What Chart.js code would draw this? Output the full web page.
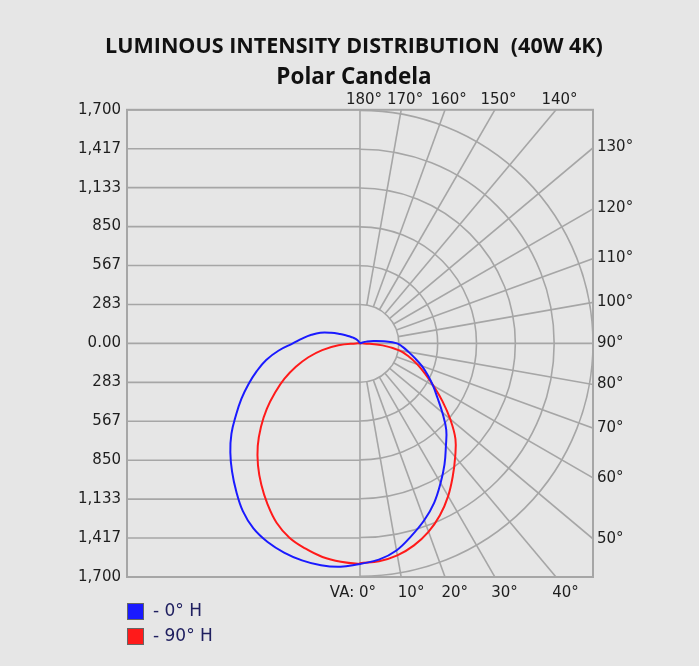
<!DOCTYPE html>
<html>
<head>
<meta charset="utf-8">
<title>Luminous Intensity Distribution</title>
<script src="https://cdn.jsdelivr.net/npm/chart.js@4.4.0/dist/chart.umd.min.js"></script>
<style>
  html, body { margin: 0; padding: 0; background: #e6e6e6; }
  #wrap { width: 699px; height: 666px; }
</style>
</head>
<body>
<div id="wrap"><canvas id="polarChart" width="699" height="666"></canvas></div>
<script>
// vertical angles (0 = straight down), candela
const vAngles = [0, 5, 10, 15, 20, 25, 30, 35, 40, 45, 50, 55, 60, 65, 70, 75, 80, 85, 90,
    95, 100, 105, 110, 115, 120, 125, 130, 135, 140, 145, 150, 155, 160, 165, 170, 175, 180];

// 0° H plane: right side = 0°, left side = 180°
const cd0H = [1605, 1580, 1530, 1450, 1370, 1280, 1175, 1075, 975, 890, 785, 690, 615, 545, 480, 415, 360, 315, 270,
    175, 100, 50, 20, 0, 0, 0, 0, 0, 0, 0, 0, 0, 0, 0, 0, 0, 0];
const cd180H = [1605, 1632, 1640, 1635, 1620, 1595, 1555, 1490, 1405, 1320, 1235, 1145, 1045, 955, 865, 780, 695, 595, 490,
    420, 360, 300, 225, 160, 115, 85, 65, 50, 35, 20, 0, 0, 0, 0, 0, 0, 0];

// 90° H plane: right side = 90°, left side = 270°
const cd90H = [1600, 1592, 1567, 1522, 1460, 1380, 1285, 1180, 1080, 985, 860, 735, 620, 525, 445, 368, 290, 165, 30,
    0, 0, 0, 0, 0, 0, 0, 0, 0, 0, 0, 0, 0, 0, 0, 0, 0, 0];
const cd270H = [1605, 1595, 1578, 1545, 1505, 1440, 1350, 1255, 1158, 1055, 943, 830, 715, 608, 498, 390, 280, 158, 30,
    0, 0, 0, 0, 0, 0, 0, 0, 0, 0, 0, 0, 0, 0, 0, 0, 0, 0];

const seriesNames = ['0° H', '90° H'];
const seriesColors = ['#1a1aff', '#ff1a1a'];

const yTickValues = [1700, 1416.67, 1133.33, 850, 566.67, 283.33, 0,
    -283.33, -566.67, -850, -1133.33, -1416.67, -1700];
const yTickLabels = ['1,700', '1,417', '1,133', '850', '567', '283', '0.00',
    '283', '567', '850', '1,133', '1,417', '1,700'];

const ringValues = [283.33, 566.67, 850, 1133.33, 1416.67, 1700];
const spokeAngles = [10, 20, 30, 40, 50, 60, 70, 80, 100, 110, 120, 130, 140, 150, 160, 170];
const angleLabels = [180, 170, 160, 150, 140, 130, 120, 110, 100, 90, 80, 70, 60, 50, 40, 30, 20, 10, 0];

const MAX_CD = 1700;
const GRID = '#a6a6a6';
const TEXT = '#1e1e1e';

// left half walks 180 -> 0, right half walks 0 -> 180, so the outline closes
function toPoints(leftVals, rightVals) {
    const pts = [];
    for (let i = vAngles.length - 1; i >= 0; i--) {
        const t = vAngles[i] * Math.PI / 180;
        pts.push({ x: -leftVals[i] * Math.sin(t), y: -leftVals[i] * Math.cos(t) });
    }
    for (let i = 0; i < vAngles.length; i++) {
        const t = vAngles[i] * Math.PI / 180;
        pts.push({ x: rightVals[i] * Math.sin(t), y: -rightVals[i] * Math.cos(t) });
    }
    return pts;
}

const polarGrid = {
    id: 'polarGrid',
    beforeDatasetsDraw(chart) {
        const { ctx, chartArea: area, scales: { x, y } } = chart;
        const cx = x.getPixelForValue(0);
        const cy = y.getPixelForValue(0);
        const pxPerCd = (x.getPixelForValue(MAX_CD) - cx) / MAX_CD;

        ctx.save();
        ctx.beginPath();
        ctx.rect(area.left, area.top, area.width, area.height);
        ctx.clip();
        ctx.strokeStyle = GRID;
        ctx.lineWidth = 1.6;

        // horizontal lines only on the left half (zero line goes across)
        yTickValues.forEach(v => {
            const py = y.getPixelForValue(v);
            ctx.beginPath();
            ctx.moveTo(area.left, py);
            ctx.lineTo(v === 0 ? area.right : cx, py);
            ctx.stroke();
        });

        ctx.beginPath();
        ctx.moveTo(cx, area.top);
        ctx.lineTo(cx, area.bottom);
        ctx.stroke();

        ringValues.forEach(r => {
            ctx.beginPath();
            ctx.arc(cx, cy, r * pxPerCd, -Math.PI / 2, Math.PI / 2);
            ctx.stroke();
        });

        const r0 = ringValues[0] * pxPerCd;
        const r1 = MAX_CD * 2 * pxPerCd;
        spokeAngles.forEach(deg => {
            const t = deg * Math.PI / 180;
            ctx.beginPath();
            ctx.moveTo(cx + r0 * Math.sin(t), cy + r0 * Math.cos(t));
            ctx.lineTo(cx + r1 * Math.sin(t), cy + r1 * Math.cos(t));
            ctx.stroke();
        });
        ctx.restore();

        ctx.save();
        ctx.strokeStyle = GRID;
        ctx.lineWidth = 2;
        ctx.strokeRect(area.left, area.top, area.width, area.height);
        ctx.restore();
    },
    afterDraw(chart) {
        const { ctx, chartArea: area, scales: { x, y } } = chart;
        ctx.save();
        ctx.fillStyle = TEXT;
        ctx.font = '15px "DejaVu Sans"';
        ctx.textBaseline = 'middle';

        // angle labels where each spoke meets the frame
        angleLabels.forEach(deg => {
            const t = deg * Math.PI / 180;
            const dx = Math.sin(t);
            const dy = -Math.cos(t);
            const k = Math.min(Math.abs(dx) > 1e-9 ? MAX_CD / Math.abs(dx) : Infinity,
                Math.abs(dy) > 1e-9 ? MAX_CD / Math.abs(dy) : Infinity);
            const hx = x.getPixelForValue(k * dx);
            const hy = y.getPixelForValue(k * dy);
            const txt = deg + '°';
            if (Math.abs(k * dx) >= MAX_CD - 1) {
                ctx.textAlign = 'left';
                ctx.fillText(txt, area.right + 4, hy);
            } else if (dy > 0) {
                ctx.textAlign = 'center';
                ctx.fillText(txt, hx + 4, area.top - 10);
            } else if (deg === 0) {
                ctx.textAlign = 'right';
                ctx.fillText('VA: ' + txt, hx + 16, area.bottom + 16);
            } else {
                ctx.textAlign = 'center';
                ctx.fillText(txt, hx + 10, area.bottom + 16);
            }
        });

        // legend, stacked under the plot
        ctx.font = '17px "DejaVu Sans"';
        ctx.textAlign = 'left';
        chart.data.datasets.forEach((ds, i) => {
            const top = area.bottom + 26 + i * 25;
            ctx.fillStyle = ds.borderColor;
            ctx.fillRect(area.left, top, 17, 17);
            ctx.strokeStyle = '#666';
            ctx.lineWidth = 1;
            ctx.strokeRect(area.left + 0.5, top + 0.5, 16, 16);
            ctx.fillStyle = '#202060';
            ctx.fillText('- ' + ds.label, area.left + 26, top + 9);
        });
        ctx.restore();
    }
};

const ctx = document.getElementById('polarChart').getContext('2d');

const chart = new Chart(ctx, { //eslint-disable-line
    type: 'scatter',
    data: {
        datasets: [
            {
                label: seriesNames[0],
                data: toPoints(cd180H, cd0H),
                borderColor: seriesColors[0],
                backgroundColor: seriesColors[0],
                showLine: true,
                borderWidth: 2,
                pointRadius: 0,
                tension: 0.4,
            },
            {
                label: seriesNames[1],
                data: toPoints(cd270H, cd90H),
                borderColor: seriesColors[1],
                backgroundColor: seriesColors[1],
                showLine: true,
                borderWidth: 2,
                pointRadius: 0,
                tension: 0.4,
            }
        ]
    },
    options: {
        responsive: false,
        animation: false,
        layout: { padding: { top: 0, left: 9, right: 0, bottom: 89 } },
        plugins: {
            legend: { display: false },
            tooltip: { enabled: false },
            title: {
                display: true,
                text: 'LUMINOUS INTENSITY DISTRIBUTION  (40W 4K)',
                color: '#111',
                font: { family: '"Open Sans"', size: 21.5, weight: 'bold', lineHeight: 1.2 },
                padding: { top: 34, bottom: 0 }
            },
            subtitle: {
                display: true,
                text: 'Polar Candela',
                color: '#111',
                font: { family: '"Open Sans"', size: 22.5, weight: 'bold', lineHeight: 1.2 },
                padding: { top: 4, bottom: 19 }
            }
        },
        scales: {
            x: {
                type: 'linear',
                min: -MAX_CD,
                max: MAX_CD,
                display: false
            },
            y: {
                type: 'linear',
                min: -MAX_CD,
                max: MAX_CD,
                afterBuildTicks: (scale) => {
                    scale.ticks = yTickValues.map(v => ({ value: v }));
                },
                afterFit: (scale) => {
                    scale.width = 118;
                },
                grid: { display: false, drawTicks: false },
                border: { display: false },
                ticks: {
                    padding: 6,
                    color: TEXT,
                    font: { family: '"DejaVu Sans"', size: 15 },
                    callback: (value, index) => yTickLabels[index]
                }
            },
            // empty right axis, only reserves room for the angle labels
            yRight: {
                type: 'linear',
                position: 'right',
                min: -MAX_CD,
                max: MAX_CD,
                afterFit: (scale) => {
                    scale.width = 106;
                },
                grid: { display: false, drawTicks: false },
                border: { display: false },
                ticks: { display: false }
            }
        }
    },
    plugins: [polarGrid]
});
</script>
</body>
</html>
